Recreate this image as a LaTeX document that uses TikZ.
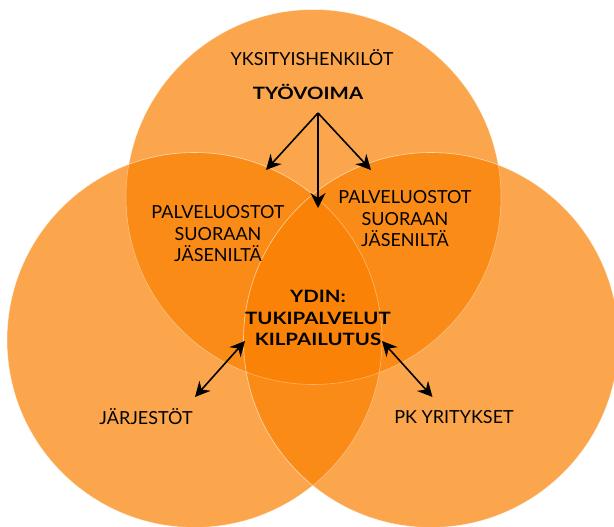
\documentclass[tikz,border=0pt]{standalone}
\usepackage{fontspec}
\setmainfont{Lato}[BoldFeatures={FakeStretch=1.2}]
\usetikzlibrary{arrows.meta,positioning}
\definecolor{vennorange}{RGB}{250,128,0}
\tikzset{
    venncircle/.style={fill=vennorange, fill opacity=0.7, draw=white,
        draw opacity=0.35, line width=0.6pt},
    vennlabel/.style={align=center, inner sep=0pt,
        font=\fontsize{18}{21.5}\selectfont},
    vennbold/.style={vennlabel, font=\fontsize{17}{21.5}\selectfont\bfseries},
    vennarrow/.style={-{Stealth[length=15pt,width=15pt,inset=5pt]}, line width=1.6pt},
    venndouble/.style={{Stealth[length=15pt,width=15pt,inset=5pt]}-{Stealth[length=15pt,width=15pt,inset=5pt]},
        line width=1.6pt}
}

\begin{document}
\begin{tikzpicture}[x=1pt, y=-1pt]
\useasboundingbox (0,0) rectangle (614,527);
% three circles
\fill[venncircle] (313.5,197) circle[radius=187.5pt];
\fill[venncircle] (194.5,340) circle[radius=187.5pt];
\fill[venncircle] (431,340) circle[radius=187.5pt];
\draw[venncircle, fill opacity=0] (313.5,197) circle[radius=187.5pt];
\draw[venncircle, fill opacity=0] (194.5,340) circle[radius=187.5pt];
\draw[venncircle, fill opacity=0] (431,340) circle[radius=187.5pt];

% labels
\node[vennlabel] (private) at (312,58) {YKSITYISHENKILÖT};
\node[vennbold] (labour) at (308,91.5) {TYÖVOIMA};
\node[vennlabel] (directleft) at (218,234) {PALVELUOSTOT\\SUORAAN\\JÄSENILTÄ};
\node[vennlabel] (directright) at (405,219) {PALVELUOSTOT\\SUORAAN\\JÄSENILTÄ};
\node[vennbold] (core) at (318,318) {YDIN:\\TUKIPALVELUT\\KILPAILUTUS};
\node[vennlabel] (orgs) at (146,417) {JÄRJESTÖT};
\node[vennlabel] (sme) at (454,417) {PK YRITYKSET};

% arrow ends
\coordinate (split) at (318,113);
\coordinate (toleft) at (266,170);
\coordinate (toright) at (371,170);
\coordinate (tocore) at (318,208);
\coordinate (coreleft) at (245,341);
\coordinate (coreright) at (382,341);
\coordinate (orgsend) at (195,397);
\coordinate (smeend) at (432.5,397);

\draw[vennarrow] (split) -- (toleft);
\draw[vennarrow] (split) -- (toright);
\draw[vennarrow] (split) -- (tocore);
\draw[venndouble] (orgsend) -- (coreleft);
\draw[venndouble] (smeend) -- (coreright);
\end{tikzpicture}
\end{document}
